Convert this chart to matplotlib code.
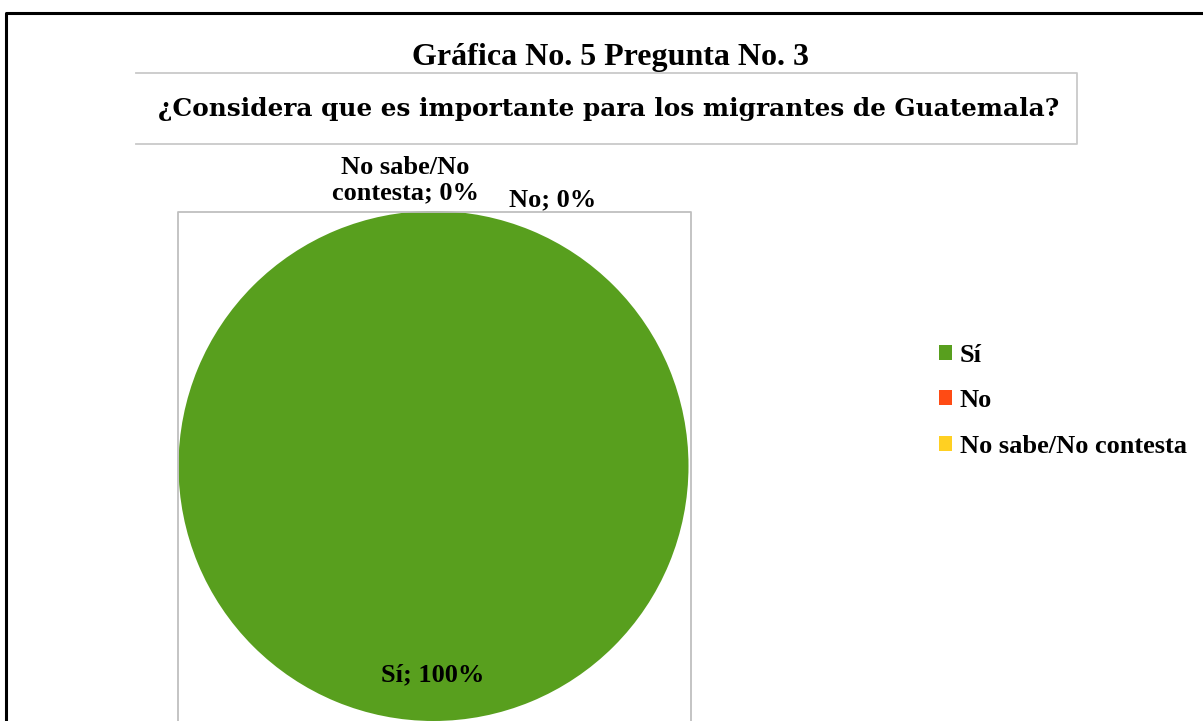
import matplotlib.pyplot as plt

# data
categories = ["Sí", "No", "No sabe/No contesta"]
values = [100, 0, 0]
colors = ["#589F1E", "#FF4B14", "#FFD022"]
title = "Gráfica No. 5 Pregunta No. 3"
subtitle = "¿Considera que es importante para los migrantes de Guatemala?"

W, H = 1203, 721
fig = plt.figure(figsize=(W / 100, H / 100), dpi=100)
ax = fig.add_axes([0, 0, 1, 1])

# pie in pixel coordinates
wedges, _ = ax.pie(values, colors=colors, startangle=90, counterclock=False,
                   center=(433.5, 466), radius=255, frame=True,
                   wedgeprops=dict(linewidth=0))
ax.set_xlim(0, W)
ax.set_ylim(H, 0)
ax.set_aspect("auto")
ax.axis("off")

# outer border
ax.plot([6, 6, W + 5], [H + 5, 12.5, 12.5], color="black", lw=2.2, clip_on=False)
# subtitle box (no left side)
ax.plot([136, 1077, 1077, 136], [73, 73, 144, 144], color="#C9C9C9", lw=1.3)
# plot area
ax.plot([177.5, 177.5, 690.5, 690.5], [H + 5, 212, 212, H + 5], color="#BFBFBF", lw=1.3)

serif = "Liberation Serif"
ax.text(611, 58, title, ha="center", va="center", fontsize=23, fontweight="bold",
        family=serif)
ax.text(609, 109, subtitle, ha="center", va="center", fontsize=17.8,
        fontweight="bold", family="DejaVu Serif")

lab_fs = 19
ax.text(433, 675, f"{categories[0]}; {values[0]}%", ha="center", va="center",
        fontsize=lab_fs, fontweight="bold", family=serif)
ax.text(553, 200, f"{categories[1]}; {values[1]}%", ha="center", va="center",
        fontsize=lab_fs, fontweight="bold", family=serif)
ax.text(405, 180, "No sabe/No\ncontesta; %d%%" % values[2], ha="center", va="center",
        fontsize=lab_fs, fontweight="bold", family=serif, linespacing=1.15)

leg = fig.legend(wedges, categories, loc="upper left", bbox_to_anchor=(915 / W, 1 - 320 / H),
                 frameon=False, handlelength=0.5, handleheight=0.5, handletextpad=0.3,
                 labelspacing=0.85, prop=dict(family=serif, weight="bold", size=lab_fs))

fig.savefig("out.png", dpi=100)
